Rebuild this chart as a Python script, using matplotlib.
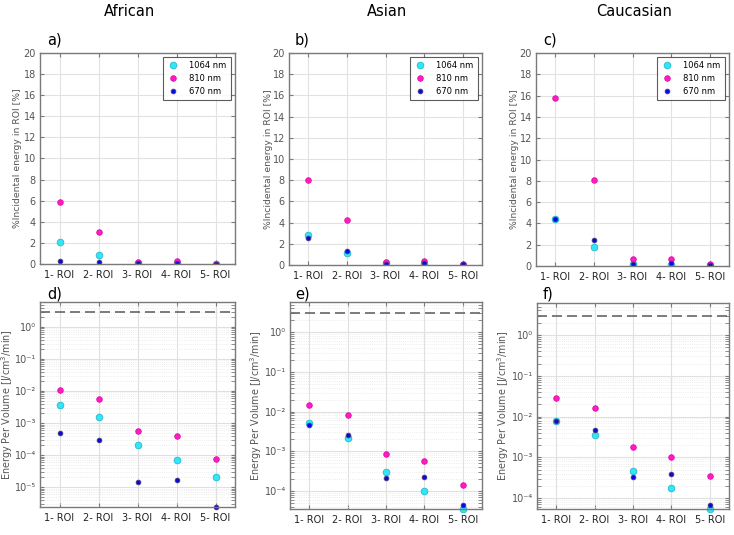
import numpy as np
import matplotlib
matplotlib.use("Agg")
import matplotlib.pyplot as plt
from matplotlib.ticker import FixedLocator, NullFormatter, FixedFormatter

rois = ["1- ROI", "2- ROI", "3- ROI", "4- ROI", "5- ROI"]
groups = ["African", "Asian", "Caucasian"]
wavelengths = ["1064 nm", "810 nm", "670 nm"]

# % incident energy in ROI
pct_african_1064 = [2.05, 0.82, 0.10, 0.10, 0.03]
pct_african_810 = [5.9, 3.06, 0.20, 0.30, 0.04]
pct_african_670 = [0.25, 0.15, 0.05, 0.05, 0.02]

pct_asian_1064 = [2.8, 1.13, 0.15, 0.05, 0.04]
pct_asian_810 = [8.06, 4.25, 0.30, 0.35, 0.10]
pct_asian_670 = [2.55, 1.35, 0.12, 0.18, 0.05]

pct_cauc_1064 = [4.4, 1.76, 0.20, 0.05, 0.05]
pct_cauc_810 = [15.76, 8.1, 0.68, 0.65, 0.15]
pct_cauc_670 = [4.4, 2.48, 0.15, 0.25, 0.05]

# energy per volume [J/cm3/min]
epv_african_1064 = [3.6e-3, 1.6e-3, 2.0e-4, 6.8e-5, 2.0e-5]
epv_african_810 = [1.05e-2, 5.7e-3, 5.6e-4, 4.0e-4, 7.8e-5]
epv_african_670 = [4.9e-4, 3.0e-4, 1.44e-5, 1.7e-5, 2.4e-6]

epv_asian_1064 = [5.2e-3, 2.2e-3, 3.0e-4, 9.7e-5, 3.5e-5]
epv_asian_810 = [1.45e-2, 8.3e-3, 8.5e-4, 5.6e-4, 1.38e-4]
epv_asian_670 = [4.6e-3, 2.6e-3, 2.1e-4, 2.2e-4, 4.5e-5]

epv_cauc_1064 = [8.0e-3, 3.5e-3, 4.5e-4, 1.78e-4, 5.4e-5]
epv_cauc_810 = [2.8e-2, 1.58e-2, 1.78e-3, 1.03e-3, 3.5e-4]
epv_cauc_670 = [7.9e-3, 4.8e-3, 3.3e-4, 4.0e-4, 6.7e-5]

threshold = 3.0
epv_lower = [2.4e-6, 3.5e-5, 5.4e-5]
epv_upper = [6.0, 5.8, 6.1]

pct_sets = [
    (pct_african_1064, pct_african_810, pct_african_670),
    (pct_asian_1064, pct_asian_810, pct_asian_670),
    (pct_cauc_1064, pct_cauc_810, pct_cauc_670),
]
epv_sets = [
    (epv_african_1064, epv_african_810, epv_african_670),
    (epv_asian_1064, epv_asian_810, epv_asian_670),
    (epv_cauc_1064, epv_cauc_810, epv_cauc_670),
]
panel_top = ["a)", "b)", "c)"]
panel_bot = ["d)", "e)", "f)"]

styles = [
    dict(color="#33e6f5", mec="#22bbd0", ms=4.8),
    dict(color="#ff19c8", mec="#e0109f", ms=4.0),
    dict(color="#0a0ae0", mec="#4a3a7a", ms=3.4),
]

plt.rcParams["font.family"] = "DejaVu Sans"
fig = plt.figure(figsize=(7.34, 5.35), dpi=100)
W, H = 734.0, 535.0

def ax_at(l, t, r, b):
    return fig.add_axes([l / W, 1 - b / H, (r - l) / W, (b - t) / H])

top_boxes = [(40, 53, 235, 264), (289, 53, 482, 265), (536, 53, 729, 266)]
bot_boxes = [(40, 302, 235, 507), (290, 302, 482, 509), (537, 303, 729, 509)]
top_label_px = [22, 273, 519]
bot_label_px = [15, 264, 511]
title_x = [130, 387, 634]
label_dx = [47, 295, 543]

x = np.arange(1, 6)
gray = "#555555"
edge = "#7a7a7a"
SUP = str.maketrans("-0123456789", "⁻⁰¹²³⁴⁵⁶⁷⁸⁹")

def style_axes(ax, ysize):
    for s in ax.spines.values():
        s.set_color(edge)
        s.set_linewidth(1.0)
    ax.tick_params(axis="both", which="both", direction="in", color=edge,
                   top=True, right=True, length=3)
    ax.tick_params(axis="y", which="major", labelsize=ysize, labelcolor=gray, pad=3)
    ax.tick_params(axis="x", labelsize=7, labelcolor="#222222", pad=4)
    ax.set_axisbelow(True)

for i in range(3):
    box = top_boxes[i]
    ax = ax_at(*box)
    for j in range(3):
        st = styles[j]
        ax.plot(x, pct_sets[i][j], linestyle="none", marker="o", ms=st["ms"],
                mfc=st["color"], mec=st["mec"], mew=0.6, label=wavelengths[j])
    ax.set_xlim(0.5, 5.5)
    ax.set_ylim(0, 20)
    ax.set_yticks(np.arange(0, 21, 2))
    ax.set_xticks(x)
    ax.set_xticklabels(rois)
    ax.grid(True, color="#e2e2e2", linewidth=0.8)
    style_axes(ax, 7)
    ax.set_ylabel("%Incidental energy in ROI [%]", fontsize=6.7, color=gray)
    ax.yaxis.set_label_coords((top_label_px[i] - box[0]) / (box[2] - box[0]), 0.5)
    leg = ax.legend(loc="upper right", fontsize=6, frameon=True, fancybox=False,
                    edgecolor="#333333", handletextpad=1.2, borderpad=0.5,
                    labelspacing=0.45, handlelength=1.5, borderaxespad=0.5)
    leg.get_frame().set_linewidth(0.8)
    fig.text(title_x[i] / W, 1 - 12 / H, groups[i], ha="center", va="center", fontsize=10.5)
    fig.text(label_dx[i] / W, 1 - 40 / H, panel_top[i], ha="left", va="center", fontsize=10.5)

for i in range(3):
    box = bot_boxes[i]
    ax = ax_at(*box)
    ax.set_yscale("log")
    for j in range(3):
        st = styles[j]
        ax.plot(x, epv_sets[i][j], linestyle="none", marker="o", ms=st["ms"],
                mfc=st["color"], mec=st["mec"], mew=0.6, clip_on=False)
    ax.axhline(threshold, color="#666666", linestyle=(0, (6, 3)), linewidth=1.2)
    ax.set_xlim(0.5, 5.5)
    lo, hi = epv_lower[i], epv_upper[i]
    ax.set_ylim(lo, hi)
    ax.set_xticks(x)
    ax.set_xticklabels(rois)
    exps = list(range(int(np.ceil(np.log10(lo))), int(np.floor(np.log10(hi))) + 1))
    majors = [10.0 ** e for e in exps]
    minors = [m * 10.0 ** e for e in range(exps[0] - 1, exps[-1] + 1)
              for m in range(2, 10) if lo <= m * 10.0 ** e <= hi]
    ax.yaxis.set_major_locator(FixedLocator(majors))
    ax.yaxis.set_major_formatter(FixedFormatter(["10" + str(e).translate(SUP) for e in exps]))
    ax.yaxis.set_minor_locator(FixedLocator(minors))
    ax.yaxis.set_minor_formatter(NullFormatter())
    ax.grid(True, which="major", color="#e0e0e0", linewidth=0.8)
    ax.grid(True, which="minor", axis="y", color="#e6e6e6", linewidth=0.6, linestyle=":")
    style_axes(ax, 7)
    ax.set_ylabel("Energy Per Volume [J/cm$^3$/min]", fontsize=6.9, color=gray)
    ax.yaxis.set_label_coords((bot_label_px[i] - box[0]) / (box[2] - box[0]), 0.5)
    fig.text(label_dx[i] / W, 1 - 294 / H, panel_bot[i], ha="left", va="center", fontsize=10.5)

fig.savefig("out.png", dpi=100, facecolor="white")
